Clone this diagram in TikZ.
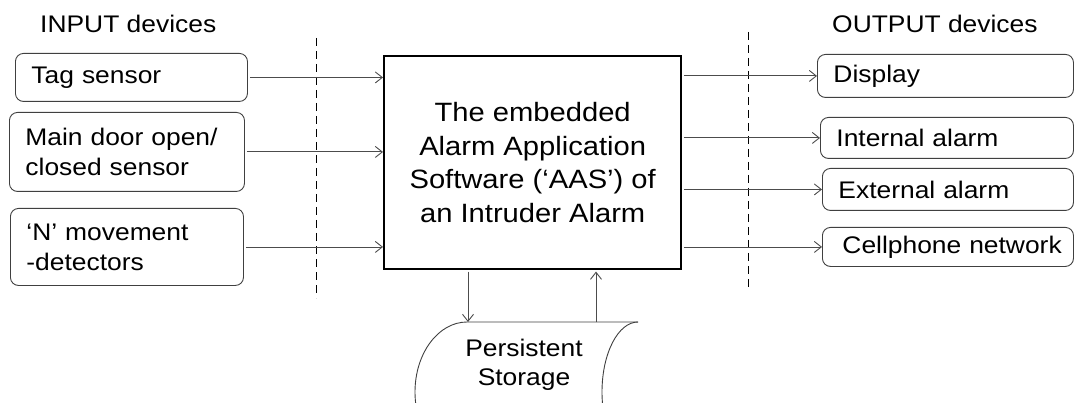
\documentclass[tikz,border=0pt]{standalone}
\usepackage{fontspec}
\setmainfont[FakeStretch=1.1]{Liberation Sans}
\usetikzlibrary{arrows.meta}
\definecolor{boxgray}{gray}{0.25}
\definecolor{linegray}{gray}{0.3}
\begin{document}
\begin{tikzpicture}[x=1pt,y=1pt,
  iobox/.style n args={3}{draw=boxgray, line width=0.9pt, rounded corners=8pt,
    inner xsep=16pt, inner ysep=0pt, align=left, anchor=north west,
    font=\fontsize{24}{30}\selectfont,
    minimum width=#1, text width=#2, minimum height=#3},
  heading/.style={anchor=base west, inner sep=0pt, font=\fontsize{24}{30}\selectfont},
  flow/.style={draw=linegray, line width=0.9pt,
    -{Straight Barb[length=7pt,width=11pt,line width=0.9pt]}},
  divider/.style={draw=black, line width=0.9pt, dash pattern=on 8pt off 5pt},
  storeline/.style={draw=boxgray, line width=0.9pt}]

\useasboundingbox (0,0) rectangle (1075,-403);

% column headings
\node[heading] (inhead)  at (40,-33)  {INPUT devices};
\node[heading] (outhead) at (832,-33) {OUTPUT devices};

% boundaries between devices and software
\coordinate (divLa) at (316,-38);
\coordinate (divLb) at (316,-298);
\coordinate (divRa) at (748,-32);
\coordinate (divRb) at (748,-290);
\draw[divider] (divLa) -- (divLb);
\draw[divider] (divRa) -- (divRb);

% input devices
\node[iobox={232pt}{200pt}{48pt}] (tag)  at (15,-53)  {Tag sensor};
\node[iobox={235pt}{203pt}{79pt}] (door) at (9,-112)  {Main door open/\\closed sensor};
\node[iobox={233pt}{201pt}{77pt}] (move) at (10,-208) {‘N’ movement\\-detectors};

% the alarm application software
\node[draw=black, line width=2.4pt, minimum width=297pt, minimum height=213pt,
      anchor=north west, align=center, inner sep=0pt,
      font=\fontsize{26.5}{33.5}\selectfont] (main) at (383,-55)
  {The embedded\\Alarm Application\\Software (‘AAS’) of\\an Intruder Alarm};

% output devices
\node[iobox={256pt}{224pt}{43pt}] (disp)  at (817,-54)  {Display};
\node[iobox={253pt}{221pt}{41pt}] (intal) at (820,-117) {Internal alarm};
\node[iobox={251pt}{219pt}{42pt}] (extal) at (822,-168) {External alarm};
\node[iobox={251pt}{219pt}{39pt}] (cell)  at (822,-227) {\hspace*{4pt}\mbox{Cellphone network}};

% persistent storage symbol
\begin{scope}
  \clip (0,0) rectangle (1075,-403);
  \draw[storeline] (638,-322) -- (467,-322)
    arc[start angle=90, end angle=270, x radius=52, y radius=70];
  \draw[storeline] (638,-322)
    arc[start angle=90, end angle=270, x radius=36, y radius=70];
\end{scope}
\node[align=center, inner sep=0pt, font=\fontsize{24}{29}\selectfont] (store)
  at (524,-365) {Persistent\\Storage};
\coordinate (stIn)  at (468,-322);
\coordinate (stOut) at (596,-322);

% data flow
\draw[flow, shorten <=2pt] (tag.east)  -- (main.west |- tag.east);
\draw[flow, shorten <=2pt] (door.east) -- (main.west |- door.east);
\draw[flow, shorten <=2pt] (move.east) -- (main.west |- move.east);
\draw[flow, shorten <=1.5pt] (main.east |- disp.west)  -- (disp.west);
\draw[flow, shorten <=1.5pt] (main.east |- intal.west) -- (intal.west);
\draw[flow, shorten <=1.5pt] (main.east |- extal.west) -- (extal.west);
\draw[flow, shorten <=1.5pt] (main.east |- cell.west)  -- (cell.west);
\draw[flow, shorten <=1.2pt] (main.south -| stIn) -- (stIn);
\draw[flow] (stOut) -- ([yshift=-1.2pt]main.south -| stOut);
\end{tikzpicture}
\end{document}
